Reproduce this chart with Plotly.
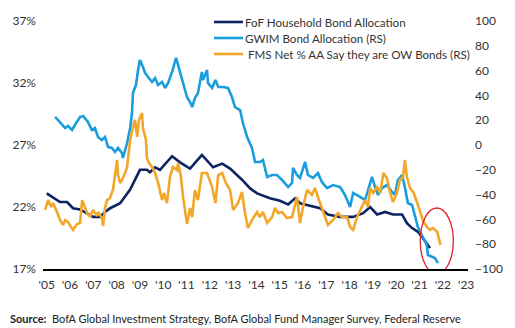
import plotly.graph_objects as go

# FoF Household Bond Allocation (% , left axis)
fof_x = [2005.0, 2005.57, 2005.87, 2006.13, 2006.43, 2006.73, 2006.99, 2007.29, 2007.5, 2007.72,
         2008.15, 2008.58, 2009.0, 2009.3, 2009.43, 2009.65, 2009.86, 2010.38, 2010.72, 2011.15,
         2011.66, 2012.14, 2012.53, 2012.87, 2013.38, 2013.73, 2014.03, 2014.58, 2015.01, 2015.36,
         2015.66, 2015.87, 2016.3, 2016.73, 2017.07, 2017.59, 2018.15, 2018.58, 2018.88, 2019.18,
         2019.52, 2019.86, 2020.25, 2020.46, 2020.68, 2020.93, 2021.14, 2021.45]
fof_y = [23.1, 22.4, 22.4, 21.9, 21.8, 21.5, 21.2, 21.2, 21.6, 21.9,
         22.3, 23.4, 25.0, 25.0, 24.8, 25.2, 25.0, 26.1, 25.6, 25.1,
         26.2, 25.2, 25.5, 25.1, 24.2, 23.5, 23.1, 22.7, 22.5, 22.2,
         22.7, 22.3, 22.1, 21.9, 21.4, 21.2, 21.2, 21.5, 22.0, 21.4,
         21.6, 21.4, 21.4, 20.7, 20.3, 20.0, 19.5, 18.7]

# GWIM Bond Allocation (right axis)
gwim_x = [2005.36, 2005.57, 2005.79, 2005.91, 2006.09, 2006.21, 2006.43, 2006.56, 2006.77, 2006.94,
          2007.07, 2007.2, 2007.37, 2007.5, 2007.63, 2007.8, 2007.93, 2008.06, 2008.23, 2008.27,
          2008.45, 2008.58, 2008.66, 2008.7, 2008.83, 2008.92, 2009.0, 2009.13, 2009.22, 2009.35,
          2009.52, 2009.65, 2009.78, 2009.95, 2010.08, 2010.21, 2010.38, 2010.55, 2010.72, 2010.85,
          2011.02, 2011.15, 2011.24, 2011.36, 2011.49, 2011.66, 2011.71, 2011.88, 2011.92, 2012.1,
          2012.24, 2012.36, 2012.57, 2012.78, 2012.95, 2013.08, 2013.3, 2013.42, 2013.6, 2013.81,
          2013.94, 2014.15, 2014.28, 2014.46, 2014.67, 2014.88, 2015.1, 2015.36, 2015.53, 2015.57,
          2015.74, 2015.87, 2016.09, 2016.21, 2016.43, 2016.64, 2016.81, 2017.03, 2017.29, 2017.59,
          2017.8, 2018.02, 2018.15, 2018.45, 2018.66, 2018.79, 2018.96, 2019.09, 2019.22, 2019.39,
          2019.6, 2019.82, 2019.94, 2020.07, 2020.25, 2020.37, 2020.5, 2020.68, 2020.81, 2020.93,
          2021.14, 2021.31, 2021.36, 2021.53, 2021.66, 2021.79]
gwim_y = [22.6, 18.5, 13.7, 15.3, 12.1, 16.1, 22.6, 23.4, 18.5, 12.1,
          13.7, 6.5, 4.0, 6.5, -1.6, -2.4, -5.6, -2.4, -6.5, -10.5,
          1.6, 13.7, 25.8, 41.9, 48.4, 60.5, 68.5, 62.9, 58.1, 54.8,
          50.8, 54.0, 48.4, 50.8, 46.0, 50.0, 58.9, 70.2, 58.1, 50.0,
          38.7, 34.7, 30.6, 37.9, 41.9, 58.9, 52.4, 60.5, 50.0, 46.0,
          52.4, 46.8, 46.8, 46.0, 38.7, 30.6, 28.2, 17.7, 6.5, -2.4,
          -13.7, -13.7, -12.1, -25.8, -24.2, -24.2, -28.2, -33.9, -30.6, -18.5,
          -24.2, -26.6, -13.7, -24.2, -26.6, -22.6, -29.8, -34.7, -32.3, -33.9,
          -40.3, -50.0, -38.7, -41.9, -44.4, -36.3, -25.8, -33.9, -40.3, -34.7,
          -32.3, -37.9, -40.3, -28.2, -24.2, -33.9, -46.8, -48.4, -58.9, -66.1,
          -74.2, -80.6, -88.7, -90.3, -91.1, -95.2]

# FMS Net % AA Say they are OW Bonds (right axis)
fms_x = [2004.93, 2005.06, 2005.18, 2005.27, 2005.44, 2005.57, 2005.7, 2005.79, 2005.91, 2006.0,
         2006.13, 2006.3, 2006.43, 2006.52, 2006.64, 2006.73, 2006.86, 2006.99, 2007.16, 2007.2,
         2007.37, 2007.42, 2007.5, 2007.59, 2007.72, 2007.85, 2008.02, 2008.06, 2008.15, 2008.23,
         2008.36, 2008.45, 2008.49, 2008.58, 2008.7, 2008.79, 2008.88, 2008.96, 2009.09, 2009.13,
         2009.26, 2009.3, 2009.39, 2009.52, 2009.65, 2009.78, 2009.95, 2010.03, 2010.16, 2010.29,
         2010.42, 2010.59, 2010.64, 2010.76, 2010.85, 2011.02, 2011.15, 2011.24, 2011.36, 2011.49,
         2011.66, 2011.88, 2012.1, 2012.24, 2012.36, 2012.53, 2012.67, 2012.87, 2013.0, 2013.21,
         2013.38, 2013.51, 2013.64, 2013.81, 2014.03, 2014.15, 2014.28, 2014.46, 2014.67, 2014.8,
         2014.93, 2015.1, 2015.31, 2015.53, 2015.74, 2015.87, 2016.0, 2016.17, 2016.38, 2016.51,
         2016.73, 2016.94, 2017.07, 2017.29, 2017.5, 2017.67, 2017.89, 2018.02, 2018.15, 2018.32,
         2018.53, 2018.66, 2018.79, 2018.88, 2019.01, 2019.18, 2019.31, 2019.45, 2019.6, 2019.73,
         2019.86, 2020.03, 2020.16, 2020.29, 2020.37, 2020.46, 2020.59, 2020.73, 2020.89, 2021.03,
         2021.14, 2021.31, 2021.45, 2021.57, 2021.76, 2021.9]
fms_y = [-52.4, -44.4, -50.0, -46.8, -54.0, -60.5, -64.5, -60.5, -62.1, -64.5,
         -68.5, -63.7, -62.9, -44.4, -50.8, -54.8, -58.1, -52.4, -57.3, -54.0,
         -58.9, -65.3, -50.8, -44.4, -42.7, -35.5, -12.1, -24.2, -30.6, -28.2,
         -22.6, -17.7, -10.5, 4.0, 14.5, 20.2, 6.5, 20.2, 25.8, 13.7,
         4.0, -10.5, -14.5, -17.7, -22.6, -30.6, -44.4, -38.7, -46.8, -25.8,
         -17.7, -20.2, -14.5, -25.8, -41.9, -63.7, -50.8, -58.1, -36.3, -44.4,
         -22.6, -22.6, -33.9, -46.8, -24.2, -22.6, -29.8, -36.3, -52.4, -46.8,
         -37.9, -54.8, -66.9, -60.5, -54.0, -58.1, -54.0, -62.9, -58.1, -50.8,
         -54.8, -54.0, -58.9, -58.1, -41.9, -62.9, -50.0, -36.3, -40.3, -34.7,
         -46.8, -58.9, -64.5, -60.5, -54.8, -58.1, -58.1, -66.1, -68.5, -58.1,
         -50.0, -44.4, -50.0, -34.7, -38.7, -33.9, -38.7, -22.6, -26.6, -37.9,
         -46.0, -38.7, -28.2, -25.8, -12.1, -25.8, -34.7, -37.9, -46.0, -54.0,
         -60.5, -66.1, -68.5, -66.9, -70.2, -80.6]

year_ticks = list(range(2005, 2024))
year_labels = ["'" + str(y)[2:] for y in year_ticks]
left_ticks = [17, 22, 27, 32, 37]
left_labels = [f"{v}%" for v in left_ticks]
right_ticks = list(range(-100, 101, 20))

NAVY = "#0c2461"
BLUE = "#1a9ddf"
ORANGE = "#f2a72b"
FONT = "Lato"
TXT = "#333333"

fig = go.Figure()
fig.add_trace(go.Scatter(x=fof_x, y=fof_y, mode="lines", line=dict(color=NAVY, width=2.6),
                         name="FoF Household Bond Allocation", yaxis="y"))
fig.add_trace(go.Scatter(x=gwim_x, y=gwim_y, mode="lines", line=dict(color=BLUE, width=2.6),
                         name="GWIM Bond Allocation (RS)", yaxis="y2"))
fig.add_trace(go.Scatter(x=fms_x, y=fms_y, mode="lines", line=dict(color=ORANGE, width=2.6),
                         name=" FMS Net % AA Say they are OW Bonds (RS)", yaxis="y2"))

# manual legend (paper coords)
legend_items = [("FoF Household Bond Allocation", NAVY),
                ("GWIM Bond Allocation (RS)", BLUE),
                (" FMS Net % AA Say they are OW Bonds (RS)", ORANGE)]
shapes = []
annotations = []
for i, (name, col) in enumerate(legend_items):
    yy = 1.0 + (21 - 22 - 16 * i) / 248.0
    shapes.append(dict(type="line", xref="paper", yref="paper",
                       x0=(214 - 43) / 425.0, x1=(243 - 43) / 425.0, y0=yy, y1=yy,
                       line=dict(color=col, width=2.6)))
    annotations.append(dict(xref="paper", yref="paper", x=(243 - 43) / 425.0, y=yy,
                            xanchor="left", yanchor="middle", showarrow=False, text=name,
                            font=dict(family=FONT, size=11.6, color=TXT)))

# red ellipse highlight
shapes.append(dict(type="circle", xref="x", yref="y2", x0=2021.03, x1=2022.45, y0=-104, y1=-50.8,
                   line=dict(color="#e0202a", width=1.3)))

annotations.append(dict(xref="paper", yref="paper", x=-43 / 425.0 + 8 / 425.0, y=-(318 - 269) / 248.0,
                        xanchor="left", yanchor="middle", showarrow=False,
                        text="<b>Source:</b>  BofA Global Investment Strategy, BofA Global Fund Manager Survey, Federal Reserve",
                        font=dict(family=FONT, size=11.0, color="#222222")))

fig.update_layout(
    width=515, height=328,
    margin=dict(l=43, r=47, t=21, b=59),
    paper_bgcolor="white", plot_bgcolor="white",
    showlegend=False,
    font=dict(family=FONT, size=12, color=TXT),
    xaxis=dict(range=[2004.84, 2023.08], tickvals=year_ticks, ticktext=year_labels,
               showgrid=False, zeroline=False, showline=True, linecolor="#000000", linewidth=1.5,
               ticks="", ticklabelstandoff=4, tickfont=dict(family=FONT, size=12, color=TXT)),
    yaxis=dict(range=[17, 37], tickvals=left_ticks, ticktext=left_labels, showgrid=False,
               zeroline=False, showline=False, ticks="", ticklabelstandoff=6,
               tickfont=dict(family=FONT, size=12, color=TXT)),
    yaxis2=dict(range=[-100, 100], tickvals=right_ticks, overlaying="y", side="right",
                showgrid=False, zeroline=False, showline=False, ticks="", ticklabelstandoff=6,
                tickfont=dict(family=FONT, size=12, color=TXT)),
    shapes=shapes,
    annotations=annotations,
)

fig.write_html("out.html")
